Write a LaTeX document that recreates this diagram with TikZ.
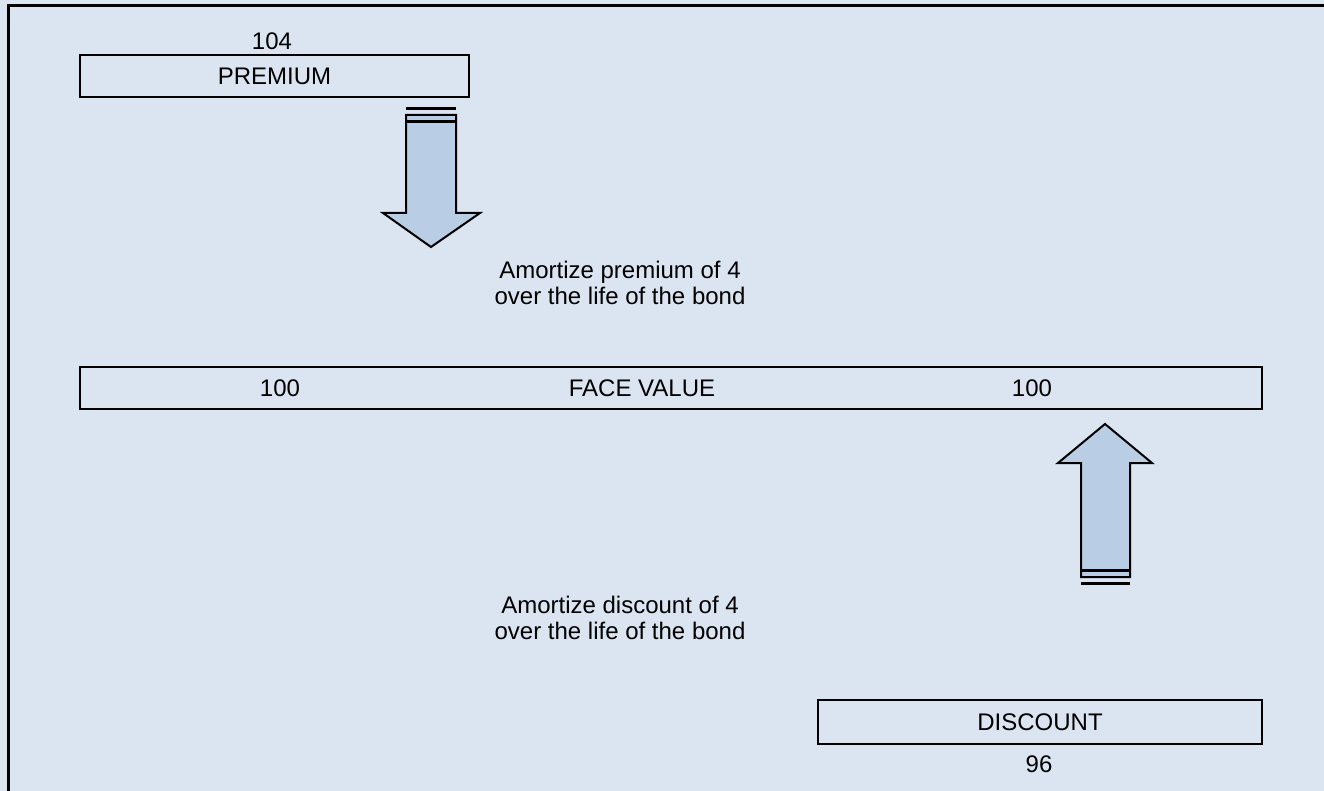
\documentclass[tikz,border=0pt]{standalone}
\usepackage{fontspec}
\setmainfont{Liberation Sans}
\usetikzlibrary{positioning}
\definecolor{bgblue}{HTML}{DBE5F1}
\definecolor{arrowblue}{HTML}{B9CDE5}

\begin{document}
\begin{tikzpicture}[x=1pt, y=-1pt, font=\fontsize{24}{26}\selectfont,
  bar/.style={draw=black, line width=2pt, fill=bgblue, inner sep=0pt, minimum height=42pt},
  blockarrow/.style={draw=black, line width=2pt, fill=arrowblue, line join=miter},
  stopline/.style={line width=3pt}]
\useasboundingbox (0,0) rectangle (1324,791);
\fill[bgblue] (0,0) rectangle (1324,791);
\draw[line width=3pt] (8,791) -- (8,6) -- (1324,6);

% premium on top
\node[bar, minimum width=389pt] (prem) at (274.5,76) {PREMIUM};
\node (premval) at (272,41) {104};

% face value bar
\node[bar, minimum width=1182pt] (face) at (671,388) {};
\node (facel) at (280,388) {100};
\node (facemid) at (642,388) {FACE VALUE};
\node (facer) at (1032,388) {100};

% discount at the bottom
\node[bar, minimum width=444pt, minimum height=44pt] (disc) at (1040,722) {DISCOUNT};
\node (discval) at (1039,764) {96};

% down arrow
\draw[blockarrow] (406,115) -- (456,115) -- (456,213) -- (480,213) -- (431,247)
  -- (383,213) -- (406,213) -- cycle;
\draw[stopline] (406,109) -- (456,109);
\draw[stopline] (406,122) -- (456,122);

% up arrow
\draw[blockarrow] (1081,577) -- (1081,463) -- (1058,463) -- (1105,424)
  -- (1152,463) -- (1130,463) -- (1130,577) -- cycle;
\draw[stopline] (1081,570) -- (1130,570);
\draw[stopline] (1081,583) -- (1130,583);

\node[align=center] (premnote) at (620,283) {Amortize premium of 4\\over the life of the bond};
\node[align=center] (discnote) at (620,618) {Amortize discount of 4\\over the life of the bond};
\end{tikzpicture}
\end{document}
